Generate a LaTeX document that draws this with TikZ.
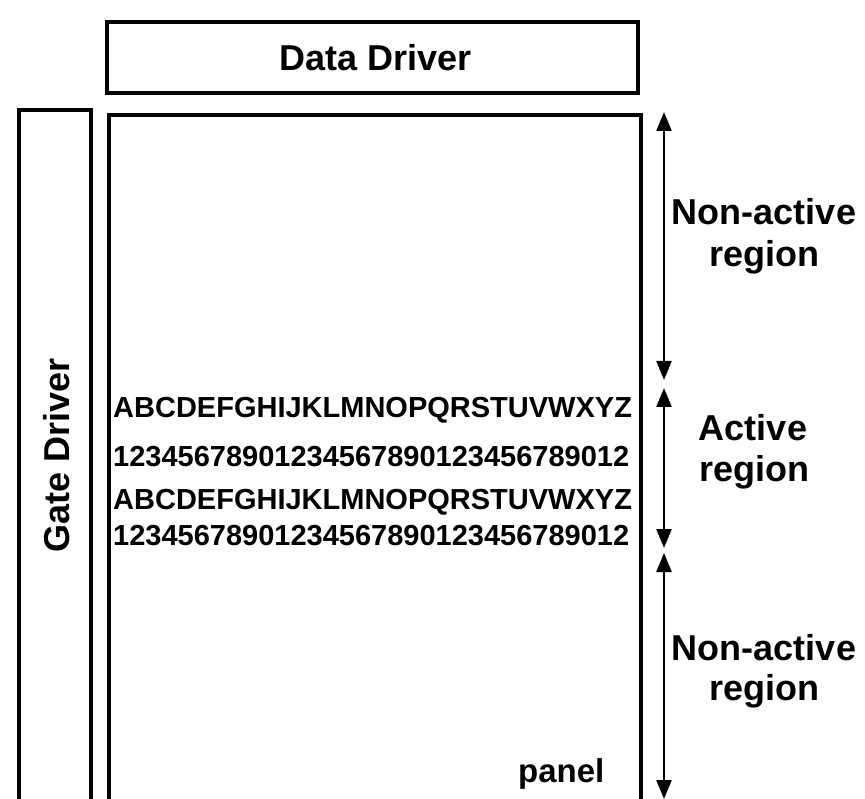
\documentclass[tikz,border=0pt]{standalone}
\usepackage{fontspec}
\setmainfont{Liberation Sans}
\usetikzlibrary{arrows.meta}
\begin{document}
\begin{tikzpicture}[x=1pt,y=-1pt,
  frame/.style={draw=black,line width=3.6pt},
  span/.style={draw=black,line width=2.4pt,{Triangle[length=19pt,width=15pt]}-{Triangle[length=19pt,width=15pt]}},
  lbl/.style={inner sep=0pt,anchor=base,font=\fontsize{36}{40}\selectfont\bfseries},
  row/.style={inner sep=0pt,anchor=base west,font=\fontsize{29}{32}\selectfont\bfseries}]
\useasboundingbox (0,0) rectangle (865,799);

% data driver block on top
\node[frame,minimum width=531pt,minimum height=71pt,inner sep=0pt] (dd) at (372.5,57.5) {};
\node[lbl] (ddtext) at (376,71) {Data Driver};

% gate driver strip (runs off the bottom edge)
\coordinate (gbl) at (19,806);
\coordinate (gtl) at (19,110);
\coordinate (gtr) at (91,110);
\coordinate (gbr) at (91,806);
\draw[frame] (gbl) -- (gtl) -- (gtr) -- (gbr);
\node[lbl,rotate=90,anchor=base] (gdtext) at (69,455) {Gate Driver};

% panel outline (open at the bottom)
\coordinate (pbl) at (109,806);
\coordinate (ptl) at (109,115);
\coordinate (ptr) at (641,115);
\coordinate (pbr) at (641,806);
\draw[frame] (pbl) -- (ptl) -- (ptr) -- (pbr);

% displayed text rows
\node[row] (r1) at (113,418) {ABCDEFGHIJKLMNOPQRSTUVWXYZ};
\node[row] (r2) at (113,466) {12345678901234567890123456789012};
\node[row] (r3) at (113,509) {ABCDEFGHIJKLMNOPQRSTUVWXYZ};
\node[row] (r4) at (113,545) {12345678901234567890123456789012};

\node[inner sep=0pt,anchor=base west,font=\fontsize{33}{36}\selectfont\bfseries] (pn) at (518,782) {panel};

% region extents
\coordinate (a1) at (664,112);
\coordinate (a2) at (664,380);
\coordinate (b1) at (664,388);
\coordinate (b2) at (664,548);
\coordinate (c1) at (664,553);
\coordinate (c2) at (664,799);
\draw[span] (a1) -- (a2);
\draw[span] (b1) -- (b2);
\draw[span] (c1) -- (c2);

\node[lbl] (n1a) at (764,225) {Non-active};
\node[lbl] (n1b) at (764,267) {region};
\node[lbl] (act) at (753,441) {Active};
\node[lbl] (actb) at (754,481) {region};
\node[lbl] (n2a) at (764,660) {Non-active};
\node[lbl] (n2b) at (764,700) {region};
\end{tikzpicture}
\end{document}
